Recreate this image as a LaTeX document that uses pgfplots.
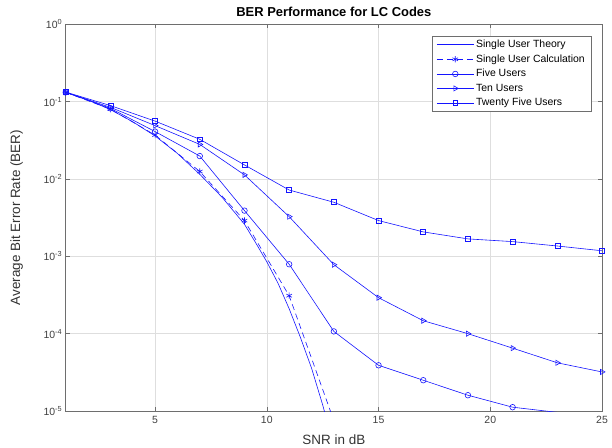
\documentclass[border=0pt]{standalone}
\usepackage{fontspec}
\setmainfont{Liberation Sans}
\usepackage{pgfplots}
\pgfplotsset{compat=1.18}
\definecolor{axgray}{RGB}{110,110,110}
\definecolor{mblue}{RGB}{20,20,255}
\begin{document}
\begin{tikzpicture}
\path[use as bounding box] (-65.7bp,-37bp) rectangle (546.3bp,411bp);
\begin{axis}[
  at={(0,0)}, anchor=south west,
  width=536.3bp, height=386.7bp, scale only axis,
  xmin=1, xmax=25, ymode=log, log basis y=10, ymin=1e-5, ymax=1,
  xtick={5,10,15,20,25}, xticklabels={5,10,15,20,25},
  ytick={1e-5,1e-4,1e-3,1e-2,1e-1,1},
  yticklabels={10\textsuperscript{-5},10\textsuperscript{-4},10\textsuperscript{-3},10\textsuperscript{-2},10\textsuperscript{-1},10\textsuperscript{0}},
  tick align=inside, major tick length=4bp, minor tick length=2.5bp,
  xmajorgrids, ymajorgrids, yminorgrids,
  major grid style={color=black!13, line width=0.6pt},
  minor grid style={color=black!40, dash pattern=on 0.6bp off 2.4bp, line width=0.5pt},
  axis line style={axgray, line width=0.6pt},
  every tick/.style={axgray, line width=0.5pt},
  tick label style={font=\fontsize{10.5}{12}\selectfont, color=black!75},
  xticklabel style={yshift=-2bp},
  title={\bfseries BER Performance for LC Codes},
  title style={font=\fontsize{13}{15}\selectfont, yshift=-2bp},
  xlabel={SNR in dB}, ylabel={Average Bit Error Rate (BER)},
  label style={font=\fontsize{13.5}{15}\selectfont, color=black!80},
  xlabel style={at={(axis description cs:0.5,-0.074)}, anchor=center},
  ylabel style={at={(axis description cs:-0.0915,0.5)}, anchor=center},
  clip mode=individual,
  legend style={at={(0.9795,0.970)}, anchor=north east, draw=axgray,
    font=\fontsize{10.5}{12}\selectfont, row sep=1.6bp, inner xsep=4bp, inner ysep=2bp},
  legend cell align=left,
  legend image code/.code={\draw[mark repeat=2,mark phase=2] plot coordinates {(0bp,0bp) (18.5bp,0bp) (37bp,0bp)};},
]
\addplot[mblue, line width=0.6pt, no marks] coordinates {
 (1,0.132) (2,0.105) (3,0.079) (4,0.055) (5,0.036) (6,0.0214) (7,0.0115) (8,0.0058)
 (9,0.0026) (9.5,0.0015) (10,8.5e-4) (10.5,4.5e-4) (11,2.1e-4) (11.5,9e-5) (12,3.6e-5) (12.5,1.2e-5) (13,3.5e-6)};
\addlegendentry{Single User Theory}
\addplot[mblue, line width=0.6pt, dash pattern=on 6bp off 4bp, mark=asterisk, mark size=3.2pt, mark options={solid}] coordinates {
 (1,0.132) (3,0.080) (5,0.037) (7,0.0125) (9,0.0029) (11,3.1e-4) (13,7.5e-6)};
\addlegendentry{Single User Calculation}
\addplot[mblue, line width=0.6pt, mark=o, mark size=2.8pt] coordinates {
 (1,0.132) (3,0.082) (5,0.041) (7,0.0198) (9,0.0039) (11,7.9e-4) (13,1.07e-4) (15,3.9e-5)
 (17,2.5e-5) (19,1.6e-5) (21,1.12e-5)};
\addlegendentry{Five Users}
\addplot[mblue, line width=0.6pt, no marks, forget plot] coordinates {
 (21,1.12e-5) (23,9.6e-6) (25,8.5e-6)};
\addplot[mblue, line width=0.6pt, mark=triangle, mark size=3pt, mark options={rotate=-90}] coordinates {
 (1,0.132) (3,0.0845) (5,0.049) (7,0.028) (9,0.0113) (11,0.00326) (13,7.8e-4) (15,2.92e-4)
 (17,1.47e-4) (19,1.0e-4) (21,6.5e-5) (23,4.2e-5) (25,3.2e-5)};
\addlegendentry{Ten Users}
\addplot[mblue, line width=0.6pt, mark=square, mark size=2.5pt] coordinates {
 (1,0.133) (3,0.089) (5,0.056) (7,0.0326) (9,0.0152) (11,0.0072) (13,0.0050) (15,0.0029)
 (17,0.00207) (19,0.00168) (21,0.00155) (23,0.00136) (25,0.00118)};
\addlegendentry{Twenty Five Users}
\end{axis}
\end{tikzpicture}
\end{document}
